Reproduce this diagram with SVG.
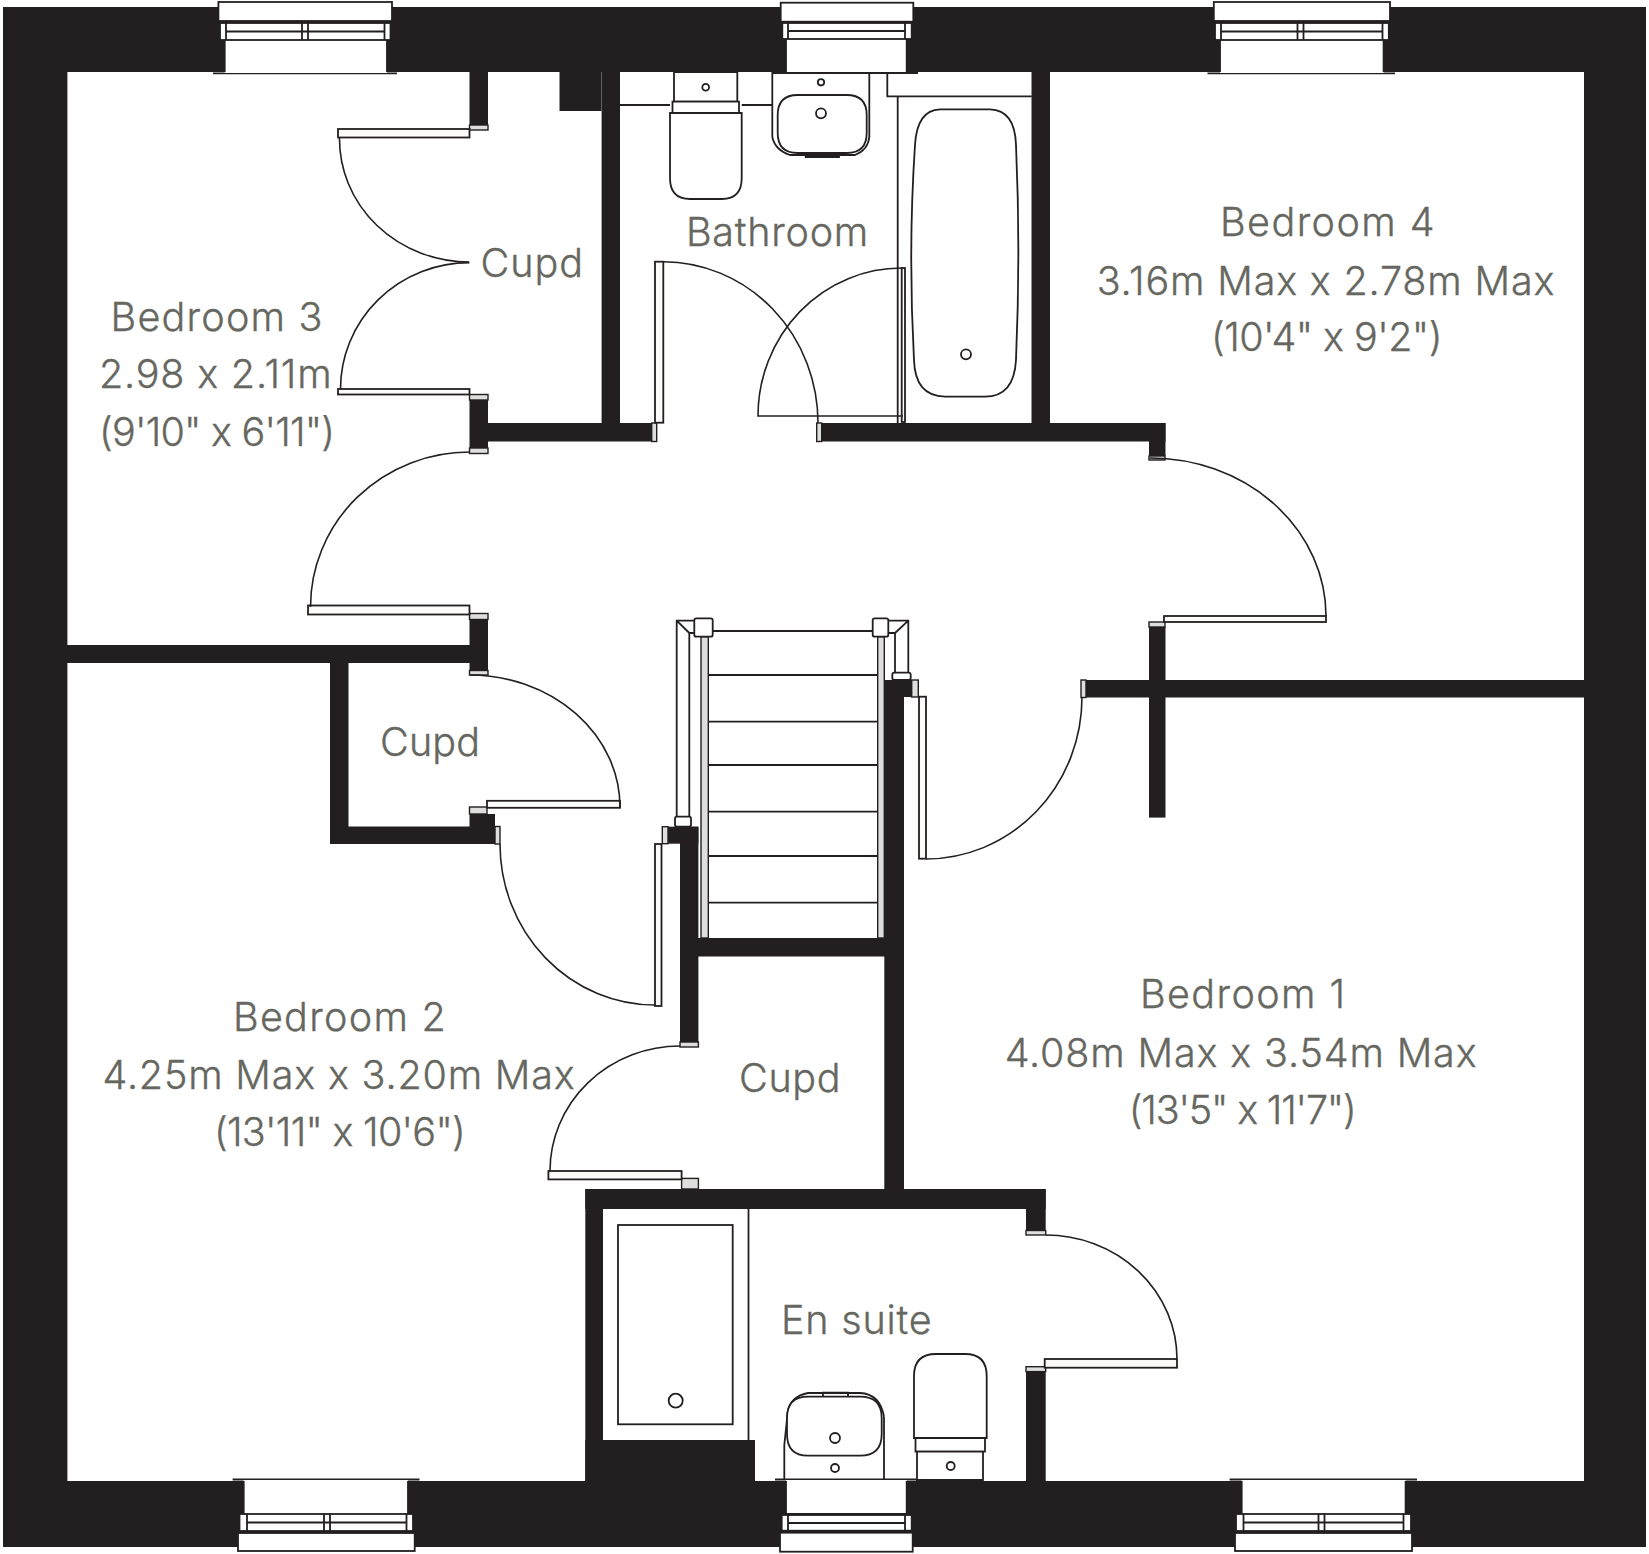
<svg xmlns="http://www.w3.org/2000/svg" width="1649" height="1554" viewBox="0 0 1649 1554">
<style>
.w{fill:#231f20}
.l{fill:none;stroke:#231f20;stroke-width:1.8}
.o{fill:#fff;stroke:#231f20;stroke-width:1.8}
.j{fill:#dededc;stroke:#231f20;stroke-width:1.4}
.f{fill:#fbfbfa;stroke:#231f20;stroke-width:1.8}
.a{fill:none;stroke:#231f20;stroke-width:1.6}
text{font-family:"Inter","Liberation Sans",sans-serif;font-size:39.5px;font-weight:300;fill:#666760;stroke:#666760;stroke-width:.35;font-feature-settings:"calt" 0;font-variant-ligatures:none}
</style>
<rect width="1649" height="1554" fill="#fff"/>
<g id="walls">
<rect class="w" x="3" y="7" width="1643" height="65"/>
<rect class="w" x="3" y="1481" width="1643" height="66"/>
<rect class="w" x="3" y="7" width="64.4" height="1540"/>
<rect class="w" x="1584" y="7" width="62" height="1540"/>
<rect class="w" x="469.5" y="72" width="18.5" height="53"/>
<rect class="w" x="559.5" y="72" width="42" height="39"/>
<rect class="w" x="601.6" y="72" width="18.4" height="351"/>
<rect class="w" x="488" y="423" width="163.7" height="18.5"/>
<rect class="w" x="469.5" y="400" width="18.5" height="48"/>
<rect class="w" x="469.5" y="619.5" width="18.5" height="51"/>
<rect class="w" x="67" y="645" width="405" height="18"/>
<rect class="w" x="330" y="663" width="18.5" height="181"/>
<rect class="w" x="330" y="826.5" width="165" height="17.5"/>
<rect class="w" x="469.5" y="814" width="25.5" height="13"/>
<rect class="w" x="668" y="826.7" width="30.4" height="17"/>
<rect class="w" x="680" y="826.7" width="18.4" height="215.5"/>
<rect class="w" x="680" y="938" width="224" height="18.5"/>
<rect class="w" x="884.3" y="680" width="27.4" height="17"/>
<rect class="w" x="884.3" y="680" width="19.7" height="510"/>
<rect class="w" x="1086" y="680" width="498" height="17.5"/>
<rect class="w" x="1149" y="627" width="16.5" height="190.6"/>
<rect class="w" x="1149" y="423" width="16.5" height="33"/>
<rect class="w" x="821.7" y="423" width="343.8" height="18.5"/>
<rect class="w" x="1031.5" y="72" width="18.5" height="351"/>
<rect class="w" x="585.3" y="1189" width="460.4" height="20"/>
<rect class="w" x="585.3" y="1189" width="17.7" height="292"/>
<rect class="w" x="585.3" y="1440" width="169.7" height="41"/>
<rect class="w" x="1026" y="1189" width="19.7" height="41.5"/>
<rect class="w" x="1026" y="1371.6" width="19.7" height="110"/>
</g>
<g id="jambs">
<rect class="j" x="469.5" y="125" width="18.5" height="5"/>
<rect class="j" x="469.5" y="394.5" width="18.5" height="5.5"/>
<rect class="j" x="469.5" y="448" width="18.5" height="5.5"/>
<rect class="j" x="469.5" y="613.5" width="18.5" height="6"/>
<rect class="j" x="469.5" y="670.5" width="18.5" height="4.5"/>
<rect class="j" x="469.5" y="807" width="17.5" height="7"/>
<rect class="j" x="495" y="826.5" width="5" height="17.5"/>
<rect class="j" x="662.3" y="826.7" width="5.7" height="17"/>
<rect class="j" x="911.7" y="680" width="6.6" height="17"/>
<rect class="j" x="651.7" y="423" width="5" height="18.5"/>
<rect class="j" x="816.7" y="423" width="5" height="18.5"/>
<rect class="j" x="1081" y="680" width="5" height="17.5"/>
<rect class="j" x="1149" y="456" width="16" height="4"/>
<rect class="j" x="1149" y="622" width="16" height="5"/>
<rect class="j" x="680" y="1042" width="18.4" height="5"/>
<rect class="j" x="681.6" y="1178.4" width="16.8" height="10.6"/>
<rect class="j" x="1026" y="1230.5" width="19.7" height="4.5"/>
<rect class="j" x="1026" y="1366.7" width="19.7" height="4.9"/>
</g>
<g id="doors">
<rect class="f" x="338" y="129" width="131.5" height="8.5"/>
<path class="a" d="M339.5 138A130 123 0 0 0 469 262"/>
<rect class="f" x="338" y="389" width="131.5" height="5.5"/>
<path class="a" d="M340.5 389A129 126.4 0 0 1 469.5 262.6"/>
<rect class="f" x="308" y="605.5" width="161.5" height="9"/>
<path class="a" d="M469.5 452A159 155 0 0 0 310.5 607"/>
<rect class="f" x="487" y="800.8" width="133" height="7"/>
<path class="a" d="M469.5 675A150.500 132 0 0 1 620 807"/>
<rect class="f" x="655" y="844" width="6.500" height="162"/>
<path class="a" d="M500 844A155 161 0 0 0 655 1005"/>
<rect class="f" x="919" y="696.7" width="7" height="162"/>
<path class="a" d="M926 859A156 162 0 0 0 1082 697"/>
<rect class="f" x="1164" y="616" width="162" height="6"/>
<path class="a" d="M1326 616A176 158 0 0 0 1150 458"/>
<rect class="f" x="655" y="261.700" width="8.300" height="161"/>
<path class="a" d="M663.300 261.700A155 161.300 0 0 1 818 423"/>
<rect class="f" x="901.700" y="268" width="3.300" height="154"/>
<path class="a" d="M901.700 268A143.700 148 0 0 0 758 416H903"/>
<rect class="f" x="548.400" y="1171" width="133.200" height="8.400"/>
<path class="a" d="M550 1171A130 125 0 0 1 680 1046"/>
<rect class="f" x="1044.700" y="1359" width="132.300" height="8.700"/>
<path class="a" d="M1045.700 1235A131.300 124 0 0 1 1177 1359"/>
</g>
<g id="windows">
<g id="window-top-1">
<path class="l" d="M213 73.300H397"/>
<rect x="224.700" y="40" width="162.300" height="33" fill="#fff"/>
<path class="l" d="M224.700 40V72M387 40V72"/>
<rect class="o" x="218.400" y="2" width="173.600" height="19"/>
<rect class="o" x="220" y="23" width="170.500" height="17"/>
<path class="l" d="M226 23V40M384.500 23V40M226 31.500H384.500M302 23V40M308 23V40"/>
</g>
<g id="window-top-2">
<path class="l" d="M772 73H918"/>
<rect x="786" y="39" width="120.700" height="33" fill="#fff"/>
<path class="l" d="M786 39V72M906.700 39V72"/>
<rect class="o" x="780.700" y="2.700" width="132.600" height="19"/>
<rect class="o" x="782.300" y="23" width="129.400" height="16"/>
<path class="l" d="M788 23V39M905 23V39M788 31H905"/>
</g>
<g id="window-top-3">
<path class="l" d="M1207.500 73.300H1395"/>
<rect x="1220" y="40" width="163.600" height="33" fill="#fff"/>
<path class="l" d="M1220 40V72M1383.600 40V72"/>
<rect class="o" x="1213.800" y="2" width="176.200" height="19"/>
<rect class="o" x="1215" y="23" width="173.800" height="17"/>
<path class="l" d="M1221 23V40M1382.500 23V40M1221 31.500H1382.500M1297.500 23V40M1303.500 23V40"/>
</g>
<g id="window-bottom-1">
<path class="l" d="M232.600 1479.500H419.500"/>
<rect x="243.700" y="1480" width="164.300" height="34" fill="#fff"/>
<path class="l" d="M243.700 1481V1514M408 1481V1514"/>
<rect class="o" x="239.500" y="1514" width="173.500" height="17"/>
<rect class="o" x="238" y="1533" width="176.700" height="18"/>
<path class="l" d="M247 1514V1531M406.500 1514V1531M247 1522.500H406.500M324 1514V1531M330 1514V1531"/>
</g>
<g id="window-bottom-2">
<path class="l" d="M775 1479.500H918"/>
<rect x="786" y="1480" width="120.700" height="33" fill="#fff"/>
<path class="l" d="M786 1481V1513M906.700 1481V1513"/>
<rect class="o" x="781.700" y="1515" width="130" height="15.700"/>
<rect class="o" x="780" y="1532.700" width="132.700" height="19"/>
<path class="l" d="M788 1515V1530.700M905 1515V1530.700M788 1523H905"/>
</g>
<g id="window-bottom-3">
<path class="l" d="M1229.600 1479.500H1417"/>
<rect x="1241.700" y="1480" width="163.900" height="34" fill="#fff"/>
<path class="l" d="M1241.700 1481V1514M1405.600 1481V1514"/>
<rect class="o" x="1236" y="1514" width="175" height="17"/>
<rect class="o" x="1235" y="1533" width="177" height="18"/>
<path class="l" d="M1243.500 1514V1531M1403.500 1514V1531M1243.500 1522.500H1403.500M1318.500 1514V1531M1324.500 1514V1531"/>
</g>
</g>
<g id="stairs">
<path class="l" d="M712.700 631H872.700"/>
<path class="l" d="M708.300 675H877.700M708.300 721.700H877.700M708.300 765H877.700M708.300 811.700H877.700M708.300 856H877.700M708.300 902.700H877.700"/>
<rect class="j" x="701" y="636.700" width="7.300" height="301.300"/>
<rect class="j" x="877.700" y="636.700" width="6.600" height="301.300"/>
<rect class="o" x="694.300" y="618.300" width="18.400" height="18.400" rx="2"/>
<rect class="o" x="872.700" y="618.300" width="15.600" height="18.400" rx="2"/>
<path class="l" d="M694.300 620.700H676.700V816.700M689.300 633V816.700M676.700 620.700L689.300 633L694.300 633"/>
<path class="l" d="M888.300 620.700H908.300V672.700M895 633V672.700M908.300 620.700L895 633L888.300 633"/>
<rect class="o" x="675" y="816.700" width="16" height="10" rx="2"/>
<rect class="o" x="892.300" y="672.700" width="18.400" height="7.300" rx="2"/>
</g>
<g id="bathroom-fittings">
<path class="l" d="M620 105H670M741.700 105H772.300"/>
<path class="l" d="M772.300 72V137M869.300 74V137"/>
<path class="l" d="M887.300 72V96.300H1031.700M887.300 96.300H897.700V423"/>
<path class="o" d="M674 72H737.300V101.700H674Z"/>
<path class="o" d="M672.500 101.700H739V113H672.500Z"/>
<path class="o" d="M670 113H741.700V178Q741.700 199 722 199H690Q670 199 670 178Z"/>
<circle class="l" cx="705.700" cy="87.300" r="3.400"/>
<path class="o" d="M797.700 95H846.700Q866.700 95 866.700 115V133Q866.700 153 846.700 153H797.700Q777.700 153 777.700 133V115Q777.700 95 797.700 95Z"/>
<path class="l" d="M772.300 137Q775 150 790 155H855Q868 150 869.300 137M805.700 153V157H839V153"/>
<circle class="l" cx="821" cy="82.300" r="3.200"/>
<circle class="l" cx="821" cy="113.300" r="5"/>
<path class="l" d="M940 109.300H990Q1015 110 1016 145Q1020.700 250 1016 360Q1014 396.700 985 396.700H945Q915 396 914 360Q908 250 915 145Q917 110 940 109.300Z"/>
<circle class="l" cx="966" cy="354.300" r="5"/>
</g>
<g id="ensuite-fittings">
<path class="l" d="M748.500 1209V1440"/>
<rect class="l" x="618" y="1225" width="114.700" height="199.300"/>
<circle class="l" cx="675.700" cy="1400.700" r="7"/>
<path class="l" d="M784.300 1445V1480M884 1416.700V1480M784.300 1445L788 1410Q792 1396 808 1393H860Q880 1394 884 1416.700"/>
<path class="o" d="M808 1396.700H860Q881.700 1396.700 881.700 1418V1434Q881.700 1455.700 860 1455.700H808Q787 1455.700 787 1434V1418Q787 1396.700 808 1396.700Z"/>
<path class="l" d="M823 1396.700V1392.700H848V1396.700"/>
<circle class="l" cx="835" cy="1438" r="5"/>
<circle class="l" cx="835" cy="1468" r="4"/>
<path class="o" d="M936 1354H965Q986.700 1354 986.700 1376V1438H914V1376Q914 1354 936 1354Z"/>
<path class="o" d="M915.500 1438H985V1451.700H915.500Z"/>
<path class="o" d="M917 1451.700H983V1480H917Z"/>
<circle class="l" cx="950.700" cy="1466" r="4"/>
</g>
<g id="labels">
<text x="110.500" y="331" textLength="212">Bedroom 3</text>
<text x="99" y="387.500" textLength="232.600">2.98 x 2.11m</text>
<text x="99" y="446" textLength="236">(9'10" x 6'11")</text>
<text x="480.500" y="276.500" textLength="102.500">Cupd</text>
<text x="380" y="755.700" textLength="100">Cupd</text>
<text x="686" y="246" textLength="182.300">Bathroom</text>
<text x="1220" y="236" textLength="214.600">Bedroom 4</text>
<text x="1096.700" y="295" textLength="457.700">3.16m Max x 2.78m Max</text>
<text x="1211" y="351" textLength="231.400">(10'4" x 9'2")</text>
<text x="233" y="1031" textLength="212.800">Bedroom 2</text>
<text x="102.600" y="1089" textLength="472.100">4.25m Max x 3.20m Max</text>
<text x="214" y="1146" textLength="251.800">(13'11" x 10'6")</text>
<text x="739" y="1091.700" textLength="101.600">Cupd</text>
<text x="1140" y="1008.400" textLength="205">Bedroom 1</text>
<text x="1004.700" y="1067.400" textLength="471.900">4.08m Max x 3.54m Max</text>
<text x="1128.700" y="1124" textLength="228.100">(13'5" x 11'7")</text>
<text x="781" y="1334" textLength="150.700">En suite</text>
</g>
</svg>
